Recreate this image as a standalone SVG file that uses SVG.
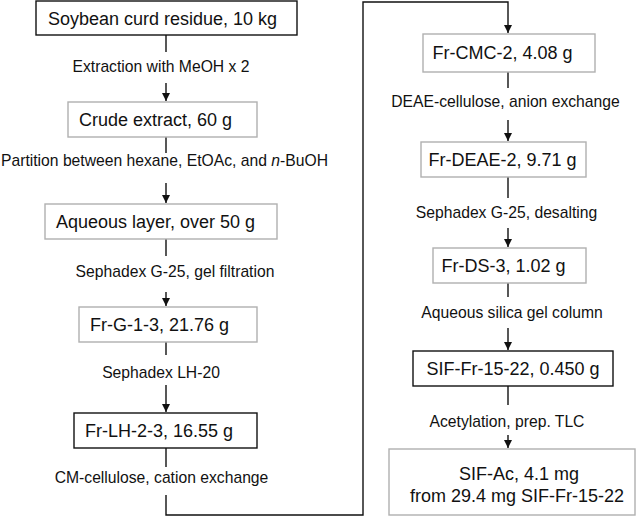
<svg xmlns="http://www.w3.org/2000/svg" width="638" height="517" viewBox="0 0 638 517">
<style>
.bk{fill:#fff;stroke:#111;stroke-width:1.4}
.gr{fill:#fff;stroke:#b0b0b0;stroke-width:1.4}
.t{font-family:"Liberation Sans",Arial,sans-serif;font-size:18px;fill:#111;text-anchor:middle}
.l{font-family:"Liberation Sans",Arial,sans-serif;font-size:15.7px;fill:#111;text-anchor:middle}
.c{fill:none;stroke:#111;stroke-width:1.4}
</style>
<defs>
<marker id="ah" viewBox="0 0 10 10" refX="10" refY="5" markerWidth="8" markerHeight="9" markerUnits="userSpaceOnUse" orient="auto">
<path d="M0,0 L10,5 L0,10 z" fill="#111"/>
</marker>
</defs>
<rect width="638" height="517" fill="#fff"/>
<g id="connectors">
<line class="c" x1="166" y1="35" x2="166" y2="52"/>
<line class="c" x1="166" y1="83" x2="166" y2="101" marker-end="url(#ah)"/>
<line class="c" x1="166" y1="137" x2="166" y2="153"/>
<line class="c" x1="166" y1="183" x2="166" y2="203" marker-end="url(#ah)"/>
<line class="c" x1="166" y1="239" x2="166" y2="256"/>
<line class="c" x1="166" y1="292" x2="166" y2="306" marker-end="url(#ah)"/>
<line class="c" x1="166" y1="342" x2="166" y2="355"/>
<line class="c" x1="166" y1="385" x2="166" y2="412" marker-end="url(#ah)"/>
<line class="c" x1="166" y1="448" x2="166" y2="467"/>
<polyline class="c" points="166,495 166,515 363,515 363,2 508,2 508,33" marker-end="url(#ah)"/>
<line class="c" x1="508" y1="72" x2="508" y2="88"/>
<line class="c" x1="508" y1="120" x2="508" y2="141" marker-end="url(#ah)"/>
<line class="c" x1="508" y1="177" x2="508" y2="198"/>
<line class="c" x1="508" y1="228" x2="508" y2="247" marker-end="url(#ah)"/>
<line class="c" x1="508" y1="283" x2="508" y2="297"/>
<line class="c" x1="508" y1="328" x2="508" y2="350" marker-end="url(#ah)"/>
<line class="c" x1="508" y1="386" x2="508" y2="405"/>
<line class="c" x1="508" y1="435" x2="508" y2="448" marker-end="url(#ah)"/>
<text class="l" x="161" y="72">Extraction with MeOH x 2</text>
<text class="l" x="164.5" y="166">Partition between hexane, EtOAc, and <tspan font-style="italic">n</tspan>-BuOH</text>
<text class="l" x="175" y="277">Sephadex G-25, gel filtration</text>
<text class="l" x="161" y="378">Sephadex LH-20</text>
<text class="l" x="161.5" y="483">CM-cellulose, cation exchange</text>
<text class="l" x="505.5" y="107">DEAE-cellulose, anion exchange</text>
<text class="l" x="506.5" y="218">Sephadex G-25, desalting</text>
<text class="l" x="512" y="318">Aqueous silica gel column</text>
<text class="l" x="507" y="427">Acetylation, prep. TLC</text>
</g>
<g id="n1"><rect class="bk" x="36" y="1" width="261" height="34"/><text class="t" x="162.5" y="25">Soybean curd residue, 10 kg</text></g>
<g id="n2"><rect class="gr" x="68" y="102" width="189" height="35"/><text class="t" x="155.5" y="126">Crude extract, 60 g</text></g>
<g id="n3"><rect class="gr" x="45" y="204" width="232" height="35"/><text class="t" x="155.5" y="228">Aqueous layer, over 50 g</text></g>
<g id="n4"><rect class="gr" x="79" y="307" width="178" height="35"/><text class="t" x="159.5" y="331">Fr-G-1-3, 21.76 g</text></g>
<g id="n5"><rect class="bk" x="74" y="413" width="183" height="35"/><text class="t" x="159" y="437">Fr-LH-2-3, 16.55 g</text></g>
<g id="n6"><rect class="gr" x="423" y="34" width="172" height="38"/><text class="t" x="502.5" y="59">Fr-CMC-2, 4.08 g</text></g>
<g id="n7"><rect class="gr" x="421" y="142" width="165" height="35"/><text class="t" x="502.5" y="166">Fr-DEAE-2, 9.71 g</text></g>
<g id="n8"><rect class="gr" x="433" y="248" width="153" height="35"/><text class="t" x="503.5" y="272">Fr-DS-3, 1.02 g</text></g>
<g id="n9"><rect class="bk" x="413" y="351" width="200" height="35"/><text class="t" x="513" y="375">SIF-Fr-15-22, 0.450 g</text></g>
<g id="n10"><rect class="gr" x="389" y="449" width="246" height="66"/><text class="t" x="519" y="480">SIF-Ac, 4.1 mg</text><text class="t" x="517" y="502">from 29.4 mg SIF-Fr-15-22</text></g>
</svg>
